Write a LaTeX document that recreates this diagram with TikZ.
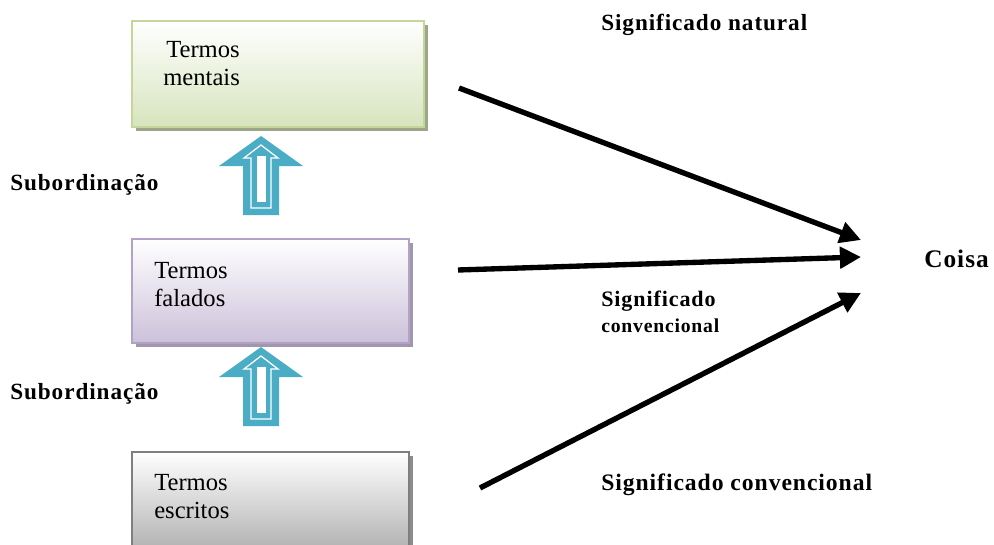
\documentclass[tikz,border=0pt]{standalone}
\usepackage{fontspec}
\setmainfont{Liberation Serif}
\newfontfamily\lblfont[LetterSpace=4]{Liberation Serif}
\usetikzlibrary{arrows.meta}
\definecolor{grnfill}{HTML}{D7E4BD}
\definecolor{grnline}{HTML}{C3D69B}
\definecolor{grnshadow}{HTML}{9EA68A}
\definecolor{violfill}{HTML}{CCC1DA}
\definecolor{violline}{HTML}{B3A2C7}
\definecolor{violshadow}{HTML}{A097AC}
\definecolor{grayfill}{HTML}{A6A6A6}
\definecolor{grayline}{HTML}{7F7F7F}
\definecolor{grayshadow}{HTML}{8C8C8C}
\definecolor{arrowblue}{HTML}{4BACC6}
\newcommand\upblockarrow[2]{%
  \begin{scope}[shift={(#1,#2)}]
    \fill[arrowblue] (0,0) -- (42,30) -- (18,30) -- (18,79) -- (-18,79) -- (-18,30) -- (-42,30) -- cycle;
    \draw[white, line width=0.9pt] (0,9) -- (17,22) -- (10,22) -- (10,72) -- (-10,72) -- (-10,22) -- (-17,22) -- cycle;
    \fill[white] (-4.5,20) rectangle (4.5,66);
  \end{scope}}
\begin{document}
\begin{tikzpicture}[x=0.025cm,y=-0.025cm,
  box/.style={rectangle, draw, line width=1.3pt, anchor=north west, inner sep=0pt, outer sep=0pt},
  boxtext/.style={anchor=base west, inner sep=0pt, font=\fontsize{17.5}{20}\selectfont},
  lbl/.style={anchor=base west, inner sep=0pt, font=\lblfont\bfseries\fontsize{16.5}{19}\selectfont},
  conn/.style={line width=3.8pt, -{Triangle[length=15pt,width=15pt]}},
]
\useasboundingbox (0,0) rectangle (994,545);
\clip (0,0) rectangle (994,545);
% shadows
\fill[grnshadow] (136,25) rectangle (428,131);
\fill[violshadow] (136,243) rectangle (413,347);
\fill[grayshadow] (136,456) rectangle (413,570);
% boxes
\node[box, draw=grnline, top color=white, bottom color=grnfill, minimum width=7.3cm, minimum height=2.65cm] (mentais) at (132,21) {};
\node[box, draw=violline, top color=white, bottom color=violfill, minimum width=6.925cm, minimum height=2.6cm] (falados) at (132,239) {};
\node[box, draw=grayline, top color=white, bottom color=grayfill, minimum width=6.925cm, minimum height=2.8cm] (escritos) at (132,452) {};
% box texts
\node[boxtext] (tm1) at (166,58) {Termos};
\node[boxtext] (tm2) at (163,86) {mentais};
\node[boxtext] (tf1) at (154,278) {Termos};
\node[boxtext] (tf2) at (154,306) {falados};
\node[boxtext] (te1) at (154,490) {Termos};
\node[boxtext] (te2) at (154,518) {escritos};
% block arrows
\upblockarrow{261}{136}
\upblockarrow{261}{347}
% labels
\node[lbl] (natural) at (601,31) {Significado natural};
\node[lbl] (sub1) at (10,190) {Subordinação};
\node[lbl] (sub2) at (10,399) {Subordinação};
\node[lbl, font=\lblfont\bfseries\fontsize{15.7}{18}\selectfont] (conv1a) at (601,306) {Significado};
\node[lbl, font=\lblfont\bfseries\fontsize{14}{16}\selectfont] (conv1b) at (601,332) {convencional};
\node[lbl, font=\lblfont\bfseries\fontsize{16.8}{19}\selectfont] (conv2) at (601,490) {Significado convencional};
\node[lbl, font=\lblfont\bfseries\fontsize{18}{21}\selectfont] (coisa) at (924,267) {Coisa};
% connectors
\coordinate (s1) at (459,88);  \coordinate (e1) at (861,240);
\coordinate (s2) at (458,270); \coordinate (e2) at (861,257);
\coordinate (s3) at (480,488); \coordinate (e3) at (861,293);
\draw[conn] (s1) -- (e1);
\draw[conn] (s2) -- (e2);
\draw[conn] (s3) -- (e3);
\end{tikzpicture}
\end{document}
